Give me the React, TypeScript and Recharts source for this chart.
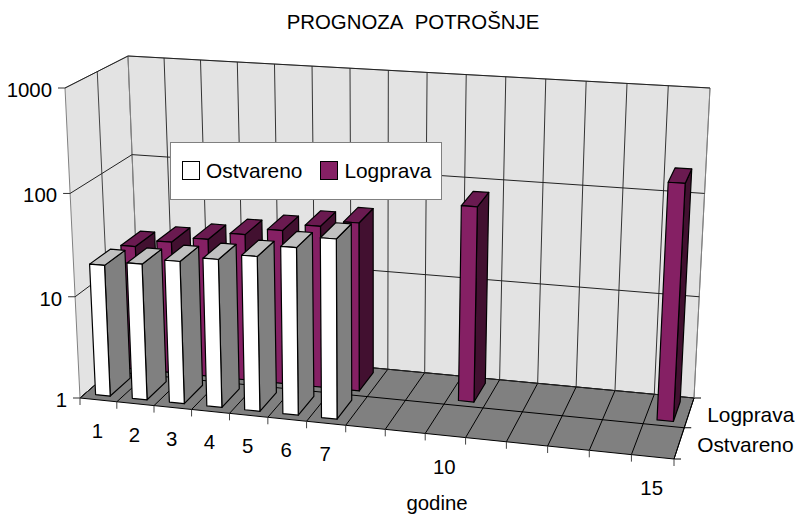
import { BarChart, Bar, XAxis, YAxis, CartesianGrid, Legend } from 'recharts';

const categories = [1, 2, 3, 4, 5, 6, 7, 8, 9, 10, 11, 12, 13, 14, 15];
const tickLabels = [1, 2, 3, 4, 5, 6, 7, 10, 15];
const ostvareno = [19.5, 21.5, 24.5, 27.5, 31.5, 41, 53, null, null, null, null, null, null, null, null];
const logprava = [18, 21.3, 24.3, 29, 34, 40, 46, null, null, 80, null, null, null, null, 182];
const valueTicks = [1, 10, 100, 1000];
const depthLabels = ['Ostvareno', 'Logprava'];

const data = categories.map((c, i) => ({ godina: c, ostvareno: ostvareno[i], logprava: logprava[i] }));

const W = 798;
const H = 515;
const margin = { top: 40, right: 100, bottom: 79, left: 59 };
const plotLeft = 60;
const plotW = W - plotLeft - margin.right;
const plotH = H - margin.top - margin.bottom - 1;
const FONT = '"Liberation Sans", Arial, sans-serif';

const PURPLE = { front: '#852064', top: '#6a1a50', side: '#421030' };
const WHITE = { front: '#ffffff', top: '#c0c0c0', side: '#808080' };

// corners of the 3D box
const FLB = [80, 398], FRB = [674, 459], BLB = [140, 346], BRB = [694, 398];
const FLT = [65, 88], FRT = [691, 127], BLT = [128, 56], BRT = [710, 88];

const warp = (s: number, a: number) => (s * a) / (1 + s * (a - 1));
const mix = (a: number[], b: number[], t: number) => [a[0] + (b[0] - a[0]) * t, a[1] + (b[1] - a[1]) * t];

// u along years, v into depth, w up, all 0..1
function project(u: number, v: number, w: number) {
  const s = warp(u, 0.925);
  const t = warp(v, 1.05);
  const r = warp(w, 0.97);
  const bottom = mix(mix(FLB, FRB, s), mix(BLB, BRB, s), t);
  const top = mix(mix(FLT, FRT, s), mix(BLT, BRT, s), t);
  return mix(bottom, top, r);
}

const toU = (x: number) => (x - plotLeft) / plotW;
const toW = (y: number) => (margin.top + plotH - y) / plotH;
const pts = (list: number[][]) => list.map((p) => p.join(',')).join(' ');

function Line3({ a, b, color = '#000' }: { a: number[]; b: number[]; color?: string }) {
  return <line x1={a[0]} y1={a[1]} x2={b[0]} y2={b[1]} stroke={color} strokeWidth={1} />;
}

function bar3d(colors: typeof WHITE, v0: number, v1: number) {
  return (props: any) => {
    const { x, y, width, height } = props;
    if (props.value == null || !height) return <g />;
    const u0 = toU(x);
    const u1 = toU(x + width);
    const w = toW(y);
    const style = { stroke: '#000', strokeWidth: 1.2, strokeLinejoin: 'round' as const };
    return (
      <g>
        <polygon points={pts([project(u1, v0, 0), project(u1, v1, 0), project(u1, v1, w), project(u1, v0, w)])} fill={colors.side} {...style} />
        <polygon points={pts([project(u0, v0, w), project(u1, v0, w), project(u1, v1, w), project(u0, v1, w)])} fill={colors.top} {...style} />
        <polygon points={pts([project(u0, v0, 0), project(u1, v0, 0), project(u1, v0, w), project(u0, v0, w)])} fill={colors.front} {...style} />
      </g>
    );
  };
}

// walls and floor behind everything
function Walls() {
  const lines = [];
  for (let i = 0; i <= categories.length; i++) {
    const u = i / categories.length;
    const edge = i === 0 || i === categories.length;
    lines.push(<Line3 key={'b' + i} a={project(u, 1, 0)} b={project(u, 1, 1)} color={edge ? '#808080' : '#333'} />);
    lines.push(<Line3 key={'f' + i} a={project(u, 0, 0)} b={project(u, 1, 0)} />);
    const p = project(u, 0, 0);
    lines.push(<Line3 key={'t' + i} a={p} b={[p[0], p[1] + 7]} color="#444" />);
  }
  return (
    <g>
      <polygon points={pts([project(0, 0, 0), project(0, 1, 0), project(0, 1, 1), project(0, 0, 1)])} fill="#e3e3e3" stroke="#808080" />
      <polygon points={pts([project(0, 1, 0), project(1, 1, 0), project(1, 1, 1), project(0, 1, 1)])} fill="#e3e3e3" stroke="#808080" />
      <polygon points={pts([project(0, 0, 0), project(1, 0, 0), project(1, 1, 0), project(0, 1, 0)])} fill="#808080" stroke="#000" />
      <Line3 a={project(0, 0.5, 0)} b={project(0, 0.5, 1)} color="#444" />
      <Line3 a={project(0, 0.5, 0)} b={project(1, 0.5, 0)} />
      {[0, 0.5, 1].map((v) => {
        const p = project(1, v, 0);
        return <Line3 key={v} a={p} b={[p[0] + 7, p[1]]} />;
      })}
      {lines}
      {depthLabels.map((d, i) => {
        const p = project(1, i * 0.5 + 0.25, 0);
        return (
          <text key={d} x={p[0] + 18} y={p[1] + 9} fontFamily={FONT} fontSize={20.9} fill="#000">
            {d}
          </text>
        );
      })}
      <text x={413} y={29} textAnchor="middle" fontFamily={FONT} fontSize={20.4} fill="#000">
        {'PROGNOZA\u00a0\u00a0POTROŠNJE'}
      </text>
      <text x={437} y={510} textAnchor="middle" fontFamily={FONT} fontSize={20.4} fill="#000">
        godine
      </text>
    </g>
  );
}

// one wall gridline per value tick, the y comes from the log axis
function wallLine(props: any) {
  const w = toW(props.y1);
  const front = project(0, 0, w);
  return (
    <g key={props.key}>
      <Line3 a={front} b={project(0, 1, w)} color="#222" />
      <Line3 a={project(0, 1, w)} b={project(1, 1, w)} color="#222" />
      <Line3 a={front} b={[front[0] - 7, front[1]]} color="#333" />
    </g>
  );
}

function ValueTick(props: any) {
  const p = project(0, 0, toW(props.y));
  return (
    <text x={p[0] - 13} y={p[1] + 9} textAnchor="end" fontFamily={FONT} fontSize={20.4} fill="#000">
      {props.payload.value}
    </text>
  );
}

function YearTick(props: any) {
  if (!tickLabels.includes(props.payload.value)) return <g />;
  const p = project(toU(props.x), 0, 0);
  return (
    <text x={p[0] - 1} y={p[1] + 38} textAnchor="middle" fontFamily={FONT} fontSize={20.4} fill="#000">
      {props.payload.value}
    </text>
  );
}

function LegendBox() {
  const swatch = (c: string) => ({
    display: 'inline-block',
    width: 16,
    height: 17,
    background: c,
    border: '1px solid #000',
    marginRight: 6,
    verticalAlign: -2,
  });
  return (
    <div style={{ width: 270, height: 56, background: '#fff', border: '1px solid #808080', fontFamily: FONT, fontSize: 20.9, lineHeight: '56px', whiteSpace: 'nowrap', color: '#000', boxSizing: 'content-box' }}>
      <span style={{ marginLeft: 11, ...swatch('#fff') }} />
      <span>{depthLabels[0]}</span>
      <span style={{ marginLeft: 18, ...swatch(PURPLE.front) }} />
      <span>{depthLabels[1]}</span>
    </div>
  );
}

export default function App() {
  return (
    <div style={{ position: 'absolute', left: 0, top: 0 }}>
      <BarChart width={W} height={H} data={data} margin={margin} barCategoryGap="29.5%" barGap="-41%">
        <Walls />
        <CartesianGrid zIndex={1} vertical={false} horizontal={wallLine} />
        <XAxis dataKey="godina" type="category" height={1} axisLine={false} tickLine={false} interval={0} tick={YearTick} />
        <YAxis scale="log" domain={[1, 1000]} ticks={valueTicks} width={1} axisLine={false} tickLine={false} interval={0} tick={ValueTick} allowDataOverflow />
        <Legend
          layout="horizontal"
          verticalAlign="middle"
          content={<LegendBox />}
          wrapperStyle={{ position: 'absolute', left: 170, top: 142, width: 272, bottom: 'auto' }}
        />
        <Bar dataKey="logprava" isAnimationActive={false} shape={bar3d(PURPLE, 0.583, 0.917)} />
        <Bar dataKey="ostvareno" isAnimationActive={false} shape={bar3d(WHITE, 0.083, 0.417)} />
      </BarChart>
    </div>
  );
}
